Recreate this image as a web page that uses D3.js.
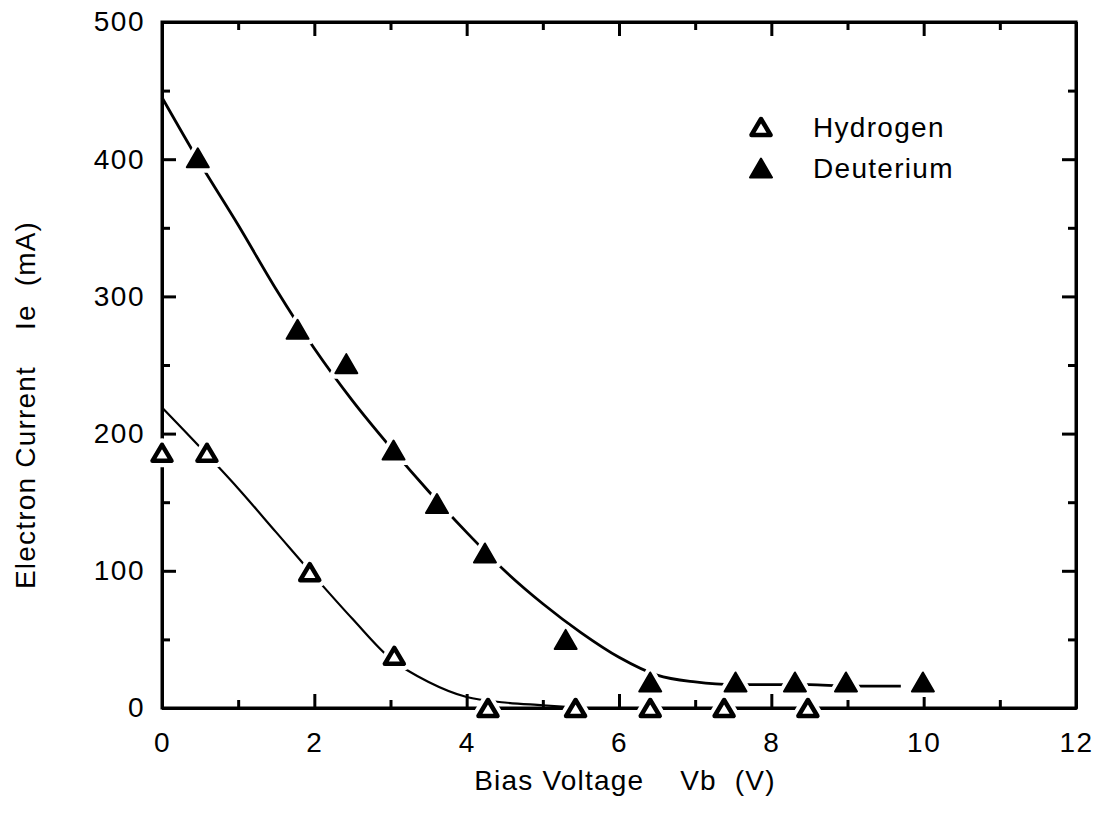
<!DOCTYPE html>
<html>
<head>
<meta charset="utf-8">
<script src="https://cdn.jsdelivr.net/npm/d3@7"></script>
<style>
  body { margin: 0; background: #fff; }
  text { font-family: "Liberation Sans", Arial, Helvetica, sans-serif; fill: #000; }
</style>
</head>
<body>
<div class="canvas"></div>
<script>
// measured points (Vb in V, Ie in mA)
const hydrogenV = [0, 0.59, 1.94, 3.05, 4.28, 5.43, 6.41, 7.38, 8.48]
const hydrogenI = [186, 186, 99, 38, 0, 0, 0, 0, 0]
const deuteriumV = [0.47, 1.78, 2.42, 3.04, 3.61, 4.24, 5.3, 6.41, 7.53, 8.31, 8.98, 9.99]
const deuteriumI = [401, 276, 251, 188, 149, 113, 50, 19, 19, 19, 19, 19]

// hand drawn fit curves
const hFitV = [0, 0.5, 1, 1.5, 2, 2.5, 3, 3.5, 4, 4.5, 5, 5.5]
const hFitI = [219, 190, 160, 128, 96, 65, 36, 19, 8, 4, 2, 0]
const dFitV = [0, 0.5, 1, 1.5, 2, 2.5, 3, 3.5, 4, 4.5, 5, 5.5, 6, 6.5, 7, 7.5, 8, 8.5, 9, 9.7]
const dFitI = [445, 397, 352, 305, 262, 224, 190, 158, 128, 100, 76, 55, 37, 24, 19, 17, 17, 17, 16, 16]

const xTicks = [0, 2, 4, 6, 8, 10, 12]
const yTicks = [0, 100, 200, 300, 400, 500]
const legendNames = ['Hydrogen', 'Deuterium']

const svg = d3.select('.canvas').append('svg')
    .attr('width', 1105)
    .attr('height', 825)

const x = d3.scaleLinear().domain([0, 12]).range([162, 1076])
const y = d3.scaleLinear().domain([0, 500]).range([708, 22])

// minor ticks at half steps
const xMinor = d3.range(1, 12, 2)
const yMinor = d3.range(50, 500, 100)

const axes = svg.append('g')
axes.append('g').attr('transform', 'translate(0,708)')
    .call(d3.axisBottom(x).tickValues(xTicks).tickSizeInner(-14).tickSizeOuter(0).tickPadding(24).tickFormat(d3.format('d')))
axes.append('g').attr('transform', 'translate(0,708)')
    .call(d3.axisBottom(x).tickValues(xMinor).tickSizeInner(-8).tickSizeOuter(0).tickFormat(''))
axes.append('g').attr('transform', 'translate(0,22)')
    .call(d3.axisTop(x).tickValues(xTicks).tickSizeInner(-14).tickSizeOuter(0).tickFormat(''))
axes.append('g').attr('transform', 'translate(0,22)')
    .call(d3.axisTop(x).tickValues(xMinor).tickSizeInner(-8).tickSizeOuter(0).tickFormat(''))
axes.append('g').attr('transform', 'translate(162,0)')
    .call(d3.axisLeft(y).tickValues(yTicks).tickSizeInner(-14).tickSizeOuter(0).tickPadding(17).tickFormat(d3.format('d')))
axes.append('g').attr('transform', 'translate(162,0)')
    .call(d3.axisLeft(y).tickValues(yMinor).tickSizeInner(-8).tickSizeOuter(0).tickFormat(''))
axes.append('g').attr('transform', 'translate(1076,0)')
    .call(d3.axisRight(y).tickValues(yTicks).tickSizeInner(-14).tickSizeOuter(0).tickFormat(''))
axes.append('g').attr('transform', 'translate(1076,0)')
    .call(d3.axisRight(y).tickValues(yMinor).tickSizeInner(-8).tickSizeOuter(0).tickFormat(''))

axes.selectAll('.domain').attr('stroke', '#000').attr('stroke-width', 3)
axes.selectAll('.tick line').attr('stroke', '#000').attr('stroke-width', 3)
axes.selectAll('.tick text')
    .style('font-size', '28px')
    .style('letter-spacing', '1.5px')
    .attr('fill', '#000')

// frame
svg.append('rect')
    .attr('x', x(0)).attr('y', y(500))
    .attr('width', x(12) - x(0)).attr('height', y(0) - y(500))
    .attr('fill', 'none').attr('stroke', '#000').attr('stroke-width', 3)

// fit lines
const line = d3.line().curve(d3.curveMonotoneX)
svg.append('path')
    .attr('d', line(dFitV.map((v, i) => [x(v), y(dFitI[i])])))
    .attr('fill', 'none').attr('stroke', '#000').attr('stroke-width', 2.8)
svg.append('path')
    .attr('d', line(hFitV.map((v, i) => [x(v), y(hFitI[i])])))
    .attr('fill', 'none').attr('stroke', '#000').attr('stroke-width', 2.2)

// triangle centred on its bounding box
const tri = (w, h) => `M0,${-h / 2}L${w / 2},${h / 2}L${-w / 2},${h / 2}Z`

function filled(g) {
  g.append('path').attr('d', tri(24, 21)).attr('fill', '#fff').attr('stroke', '#fff').attr('stroke-width', 9).attr('stroke-linejoin', 'round')
  g.append('path').attr('d', tri(22, 19)).attr('fill', '#000').attr('stroke', '#000').attr('stroke-width', 2).attr('stroke-linejoin', 'round')
}
function hollow(g) {
  g.append('path').attr('d', tri(20, 17)).attr('fill', '#fff').attr('stroke', '#fff').attr('stroke-width', 12).attr('stroke-linejoin', 'round')
  g.append('path').attr('d', tri(19, 16)).attr('fill', '#fff').attr('stroke', '#000').attr('stroke-width', 4.5).attr('stroke-linejoin', 'round')
}

svg.selectAll('.dpt').data(deuteriumV).join('g')
    .attr('class', 'dpt')
    .attr('transform', (d, i) => `translate(${x(d)},${y(deuteriumI[i])})`)
    .each(function () { filled(d3.select(this)) })
svg.selectAll('.hpt').data(hydrogenV).join('g')
    .attr('class', 'hpt')
    .attr('transform', (d, i) => `translate(${x(d)},${y(hydrogenI[i])})`)
    .each(function () { hollow(d3.select(this)) })

// legend
const legend = svg.append('g')
legend.selectAll('g').data(legendNames).join('g')
    .attr('transform', (d, i) => `translate(761,${127 + i * 41})`)
    .each(function (d, i) {
      const g = d3.select(this)
      if (i === 0) hollow(g); else filled(g)
      g.append('text').attr('x', 52).attr('y', 10)
        .style('font-size', '28px').style('letter-spacing', '1.3px')
        .text(d)
    })

// axis titles
svg.append('text')
    .attr('x', 625).attr('y', 790)
    .attr('text-anchor', 'middle')
    .style('font-size', '28px').style('letter-spacing', '1.2px').style('white-space', 'pre')
    .text('Bias Voltage    Vb  (V)')

svg.append('text')
    .attr('transform', 'translate(35,405) rotate(-90)')
    .attr('text-anchor', 'middle')
    .style('font-size', '28px').style('letter-spacing', '1.2px').style('white-space', 'pre')
    .text('Electron Current    Ie  (mA)')
</script>
</body>
</html>
